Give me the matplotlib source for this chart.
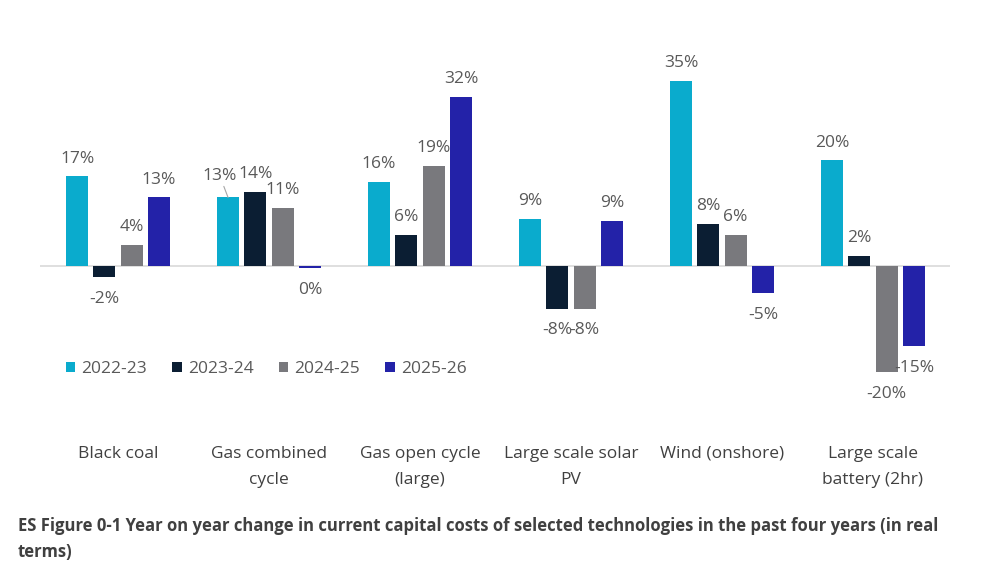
import numpy as np
import matplotlib.pyplot as plt
import matplotlib.transforms as mtrans

plt.rcParams['font.family'] = ['Open Sans', 'DejaVu Sans']

categories = ['Black coal', 'Gas combined\ncycle', 'Gas open cycle\n(large)',
              'Large scale solar\nPV', 'Wind (onshore)', 'Large scale\nbattery (2hr)']
series = ['2022-23', '2023-24', '2024-25', '2025-26']
v2022 = [17, 13, 16, 9, 35, 20]
v2023 = [-2, 14, 6, -8, 8, 2]
v2024 = [4, 11, 19, -8, 6, -20]
v2025 = [13, -0.3, 32, 8.6, -5, -15]
labels = [['17%', '13%', '16%', '9%', '35%', '20%'],
          ['-2%', '14%', '6%', '-8%', '8%', '2%'],
          ['4%', '11%', '19%', '-8%', '6%', '-20%'],
          ['13%', '0%', '32%', '9%', '-5%', '-15%']]
colors = ['#0AABCD', '#0B1E33', '#79797D', '#2322A8']

fig = plt.figure(figsize=(9.86, 5.72), dpi=100)
ax = fig.add_axes([40 / 986, 0.331, 910 / 986, 0.555])

x = np.arange(len(categories))
width = 0.146
step = 0.181
data = [v2022, v2023, v2024, v2025]

for i, vals in enumerate(data):
    pos = x + (i - 1.5) * step
    ax.bar(pos, vals, width, color=colors[i], label=series[i], zorder=3)
    for j, v in enumerate(vals):
        dy = 7 if v >= 0 else -10
        va = 'bottom' if v >= 0 else 'top'
        if i == 0 and j == 1:
            # leader-line label, pushed left
            ax.annotate(labels[i][j], (pos[j], v), xytext=(-6, 10), textcoords='offset points',
                        ha='center', va='bottom', fontsize=12.5, color='#595959',
                        arrowprops=dict(arrowstyle='-', color='#A6A6A6', lw=0.8,
                                        shrinkA=0, shrinkB=0))
            continue
        ax.annotate(labels[i][j], (pos[j], v), xytext=(0, dy), textcoords='offset points',
                    ha='center', va=va, fontsize=12.5, color='#595959')

ax.axhline(0, color='#D9D9D9', lw=1.2, zorder=2)
ax.set_xlim(-0.517, 5.51)
ax.set_ylim(-22, 38)
ax.axis('off')

# category labels sit below the legend
trans = mtrans.blended_transform_factory(ax.transData, fig.transFigure)
for j, c in enumerate(categories):
    ax.text(x[j], 1 - 446 / 572, c, transform=trans,
            ha='center', va='top', fontsize=12.5, color='#404040', linespacing=1.8)

fig.legend(loc='center left', bbox_to_anchor=(50 / 986, 1 - 369 / 572), ncol=4, frameon=False,
           handlelength=0.55, handleheight=0.55, handletextpad=0.35, columnspacing=1.45,
           fontsize=12.5, labelcolor='#595959')

fig.text(18 / 986, 1 - 539 / 572,
         'ES Figure 0-1 Year on year change in current capital costs of selected technologies in the past four years (in real\nterms)',
         ha='left', va='center', fontsize=12, fontweight='bold', color='#404040',
         linespacing=1.55)

fig.savefig('out.png', dpi=100)
